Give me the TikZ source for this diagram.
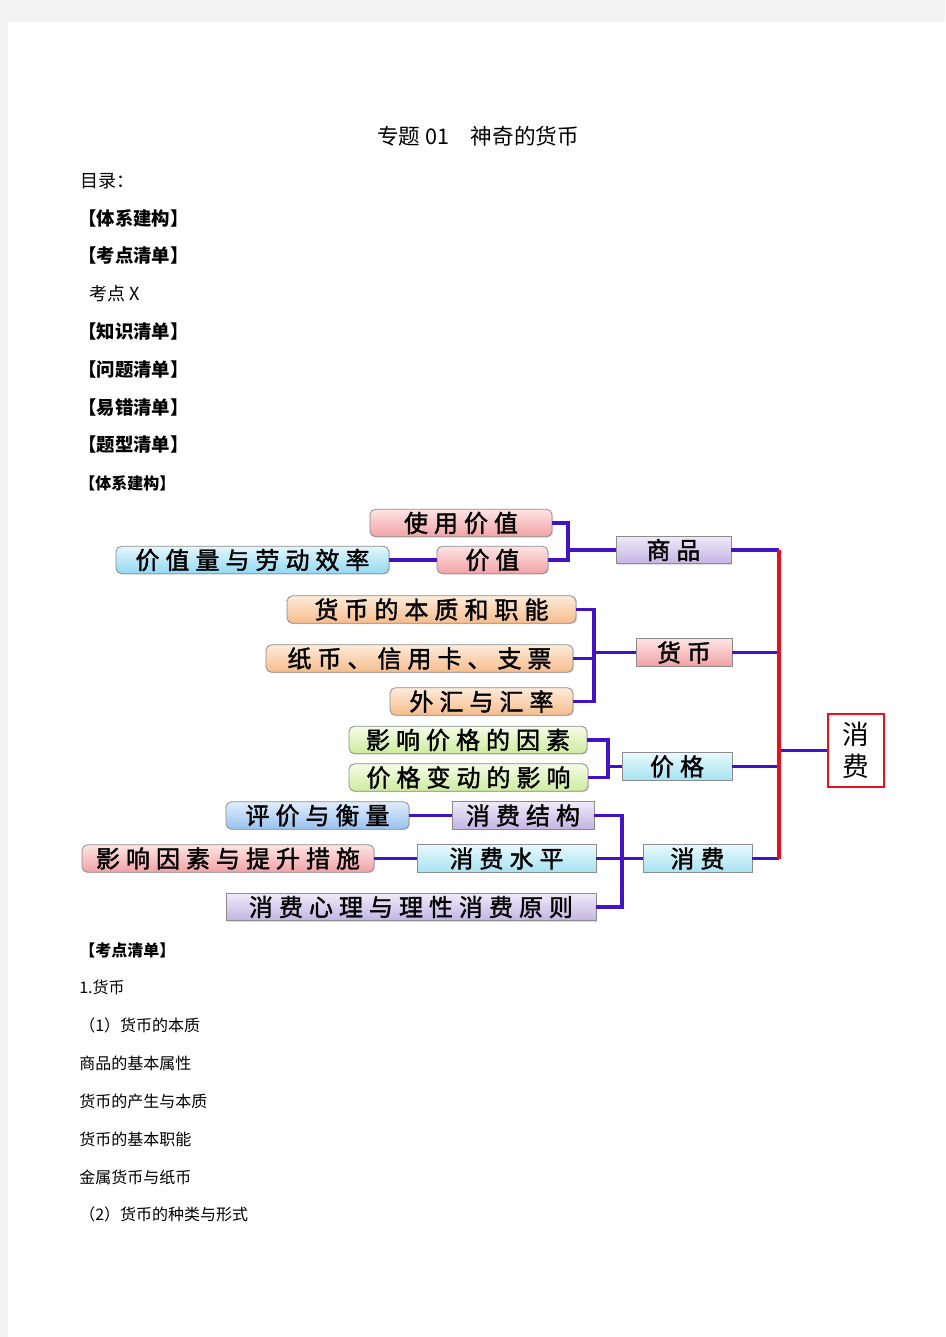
\documentclass[tikz,border=0pt]{standalone}
\usepackage{fontspec}
\newfontfamily\cjk{Noto Sans CJK SC}
\newfontfamily\boxfont[LetterSpace=25, FakeBold=1.6]{Noto Sans CJK SC}
\usetikzlibrary{shadows}
\definecolor{pagegray}{HTML}{F3F3F3}
\definecolor{boxline}{HTML}{8C8C8C}
\definecolor{linkc}{HTML}{4212C4}
\definecolor{trunkc}{HTML}{E8101C}
\definecolor{pinkT}{HTML}{FDE4E4}
\definecolor{pinkB}{HTML}{F2A2A6}
\definecolor{blueT}{HTML}{E4F7FD}
\definecolor{blueB}{HTML}{92D8F0}
\definecolor{lavT}{HTML}{EFEAF8}
\definecolor{lavB}{HTML}{C3B4E3}
\definecolor{orT}{HTML}{FDEBDA}
\definecolor{orB}{HTML}{F6BC8C}
\definecolor{grT}{HTML}{F5FCE6}
\definecolor{grB}{HTML}{CDEB9E}
\definecolor{cyT}{HTML}{E8F9FD}
\definecolor{cyB}{HTML}{A6E2F2}
\definecolor{stT}{HTML}{E0EDFC}
\definecolor{stB}{HTML}{98C2EE}
\begin{document}
\begin{tikzpicture}[x=0.75pt,y=-0.75pt,
  box/.style={draw=boxline, line width=0.6pt, minimum height=20.5pt, inner sep=0pt,
    font=\fontsize{18}{20}\boxfont,
    drop shadow={shadow xshift=0.8pt, shadow yshift=-0.8pt, opacity=0.25}},
  leaf/.style={box, rounded corners=4pt},
  hub/.style={box},
  wd/.style={minimum width=#1*0.75pt},
  fpink/.style={top color=pinkT, bottom color=pinkB},
  fblue/.style={top color=blueT, bottom color=blueB},
  flav/.style={top color=lavT, bottom color=lavB},
  forange/.style={top color=orT, bottom color=orB},
  fgreen/.style={top color=grT, bottom color=grB},
  fcyan/.style={top color=cyT, bottom color=cyB},
  fsteel/.style={top color=stT, bottom color=stB},
  link/.style={draw=linkc, line width=2.6pt},
  trunk/.style={draw=trunkc, line width=2.6pt},
  hd/.style={anchor=west, inner sep=0pt, font=\fontsize{13.8}{16}\cjk\bfseries},
  body/.style={anchor=west, inner sep=0pt, font=\fontsize{12}{14}\cjk}]
\useasboundingbox (0,0) rectangle (945,1337);
\fill[pagegray] (0,0) rectangle (945,1337);
\fill[white] (8,22) rectangle (945,1337);

\node[inner sep=0pt, font=\fontsize{16.2}{18}\cjk] (title) at (478,136) {专题 01\quad 神奇的货币};
\node[anchor=west, inner sep=0pt, font=\fontsize{13.5}{16}\cjk] (toc) at (80,181) {目录：};
\foreach \y/\t [count=\i] in {218/【体系建构】, 256/【考点清单】, 332/【知识清单】, 370/【问题清单】, 408/【易错清单】, 445/【题型清单】}
  \node[hd] (h\i) at (78,\y) {\t};
\node[anchor=west, inner sep=0pt, font=\fontsize{13.5}{16}\cjk] (kdx) at (89,294) {考点 X};
\node[hd, font=\fontsize{12}{14}\cjk\bfseries] (txjg) at (79,483) {【体系建构】};

\node[leaf, fpink, wd=182] (syjz) at (461,523) {使用价值};
\node[leaf, fpink, wd=111] (jz) at (492.5,560) {价值};
\node[leaf, fblue, wd=273] (jzl) at (252.5,560) {价值量与劳动效率};
\node[hub, flav, wd=115] (sp) at (673.5,550) {商品};
\node[leaf, forange, wd=289] (hb1) at (431.5,609.5) {货币的本质和职能};
\node[leaf, forange, wd=307] (hb2) at (419.5,658.5) {纸币、信用卡、支票};
\node[leaf, forange, wd=183] (hb3) at (481.5,701.5) {外汇与汇率};
\node[hub, fpink, wd=96] (hb) at (684,652.5) {货币};
\node[leaf, fgreen, wd=238] (jg1) at (468,740) {影响价格的因素};
\node[leaf, fgreen, wd=239] (jg2) at (468.5,777.5) {价格变动的影响};
\node[hub, fcyan, wd=110] (jg) at (677,766.5) {价格};
\node[leaf, fsteel, wd=183] (pj) at (317.5,815.5) {评价与衡量};
\node[hub, flav, wd=142] (xfjg) at (523,815.5) {消费结构};
\node[leaf, fpink, wd=292] (yx) at (228,858.5) {影响因素与提升措施};
\node[hub, fcyan, wd=179] (xfsp) at (506.5,858.5) {消费水平};
\node[hub, flav, wd=370] (xfxl) at (411,907) {消费心理与理性消费原则};
\node[hub, fcyan, wd=109] (xf) at (697.5,858.5) {消费};
\node[draw=trunkc, line width=1.6pt, fill=white, minimum width=42pt, minimum height=54.5pt,
  inner sep=0pt, align=center, font=\fontsize{20}{24.5}\cjk] (root) at (856,750.5) {消\\费};

\coordinate (b1) at (568,550);
\coordinate (b2) at (594,652.5);
\coordinate (b3) at (608,766.5);
\coordinate (b4) at (622,858.5);
\coordinate (tk) at (779,750.5);

\draw[link] (jzl) -- (jz);
\draw[link] (syjz.east) -| (b1) |- (jz.east);
\draw[link] (b1) -- (sp.west);
\draw[link] (hb1.east) -| (b2) |- (hb3.east);
\draw[link] (hb2.east) -- (hb2.east -| b2);
\draw[link] (b2) -- (hb.west);
\draw[link] (jg1.east) -| (b3) |- (jg2.east);
\draw[link] (b3) -- (jg.west);
\draw[link] (pj) -- (xfjg);
\draw[link] (yx) -- (xfsp);
\draw[link] (xfjg.east) -| (b4) |- (xfxl.east);
\draw[link] (xfsp.east) -- (xf.west);
\draw[link] (sp.east) -- (sp.east -| tk);
\draw[link] (hb.east) -- (hb.east -| tk);
\draw[link] (jg.east) -- (jg.east -| tk);
\draw[link] (xf.east) -- (xf.east -| tk);
\draw[link] (tk) -- (root.west);
\draw[trunk] (sp.east -| tk) -- (xf.east -| tk);

\node[hd, font=\fontsize{12}{14}\cjk\bfseries] (kdqd) at (79,950) {【考点清单】};
\foreach \y/\t [count=\i] in {987/1.货币, 1025/（1）货币的本质, 1063/商品的基本属性, 1101/货币的产生与本质, 1139/货币的基本职能, 1177/金属货币与纸币, 1214/（2）货币的种类与形式}
  \node[body] (l\i) at (79,\y) {\t};
\end{tikzpicture}
\end{document}
